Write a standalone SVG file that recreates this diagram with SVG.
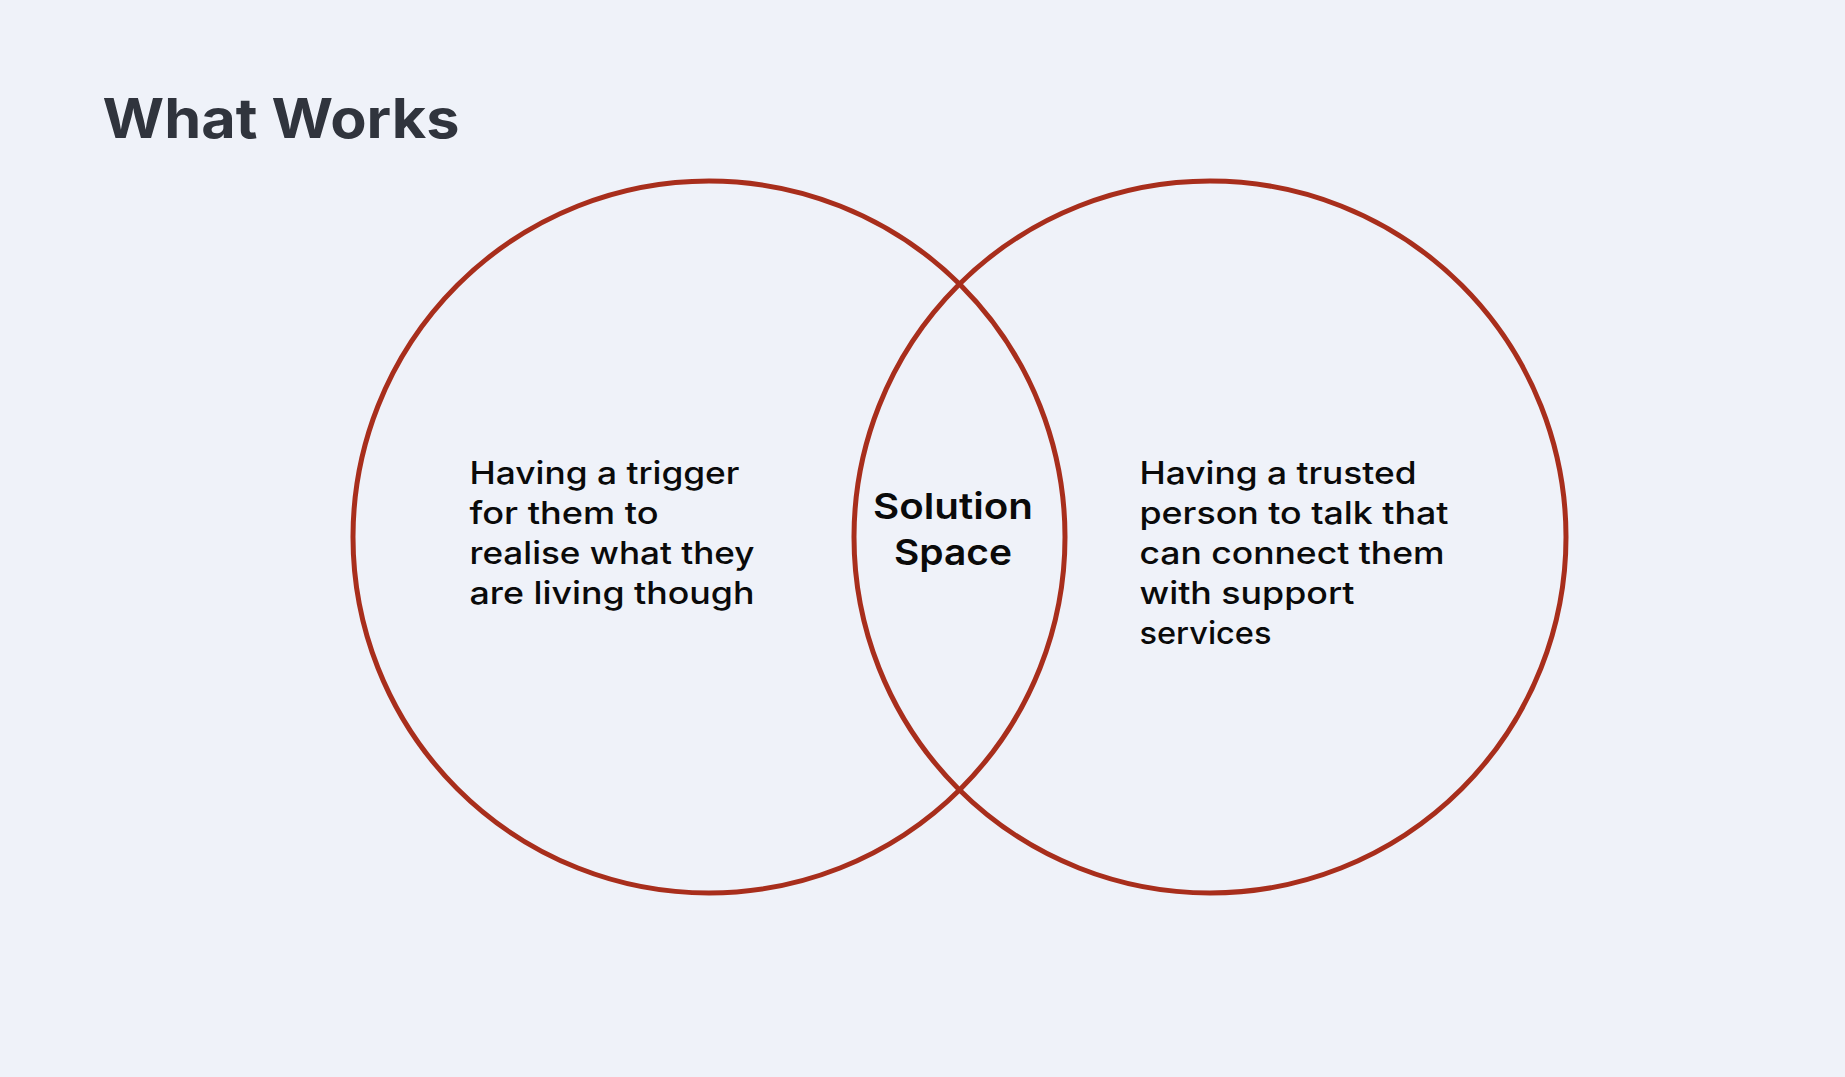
<svg xmlns="http://www.w3.org/2000/svg" width="1845" height="1077" viewBox="0 0 1845 1077">
<style>
.bg{fill:#EFF2F9}
.ring{fill:none;stroke:#A82E1C;stroke-width:5}
.title{font-family:Inter,"Open Sans","Liberation Sans",sans-serif;font-weight:700;font-size:55px;fill:#30343D}
.body{font-family:Inter,"Open Sans","Liberation Sans",sans-serif;font-weight:500;font-size:31px;fill:#0A0A0A}
.mid{font-family:Inter,"Open Sans","Liberation Sans",sans-serif;font-weight:600;font-size:36px;fill:#0A0A0A;text-anchor:middle}
</style>
<rect class="bg" x="0" y="0" width="1845" height="1077"/>
<g id="title"><text class="title" x="102.5" y="138" textLength="357" lengthAdjust="spacingAndGlyphs">What Works</text></g>
<g id="connectors"></g>
<g id="circle-left">
<circle class="ring" cx="709" cy="537" r="356"/>
<text class="body" x="469.5" y="484" textLength="270" lengthAdjust="spacingAndGlyphs">Having a trigger</text>
<text class="body" x="469.5" y="524" textLength="189" lengthAdjust="spacingAndGlyphs">for them to</text>
<text class="body" x="469.5" y="564" textLength="285" lengthAdjust="spacingAndGlyphs">realise what they</text>
<text class="body" x="469.5" y="604" textLength="285" lengthAdjust="spacingAndGlyphs">are living though</text>
</g>
<g id="circle-right">
<circle class="ring" cx="1210" cy="537" r="356"/>
<text class="body" x="1139.5" y="484" textLength="277" lengthAdjust="spacingAndGlyphs">Having a trusted</text>
<text class="body" x="1139.5" y="524" textLength="309" lengthAdjust="spacingAndGlyphs">person to talk that</text>
<text class="body" x="1139.5" y="564" textLength="305" lengthAdjust="spacingAndGlyphs">can connect them</text>
<text class="body" x="1139.5" y="604" textLength="215" lengthAdjust="spacingAndGlyphs">with support</text>
<text class="body" x="1139.5" y="644" textLength="132" lengthAdjust="spacingAndGlyphs">services</text>
</g>
<g id="intersection">
<text class="mid" x="953" y="519" textLength="160" lengthAdjust="spacingAndGlyphs">Solution</text>
<text class="mid" x="953" y="565" textLength="118" lengthAdjust="spacingAndGlyphs">Space</text>
</g>
</svg>
